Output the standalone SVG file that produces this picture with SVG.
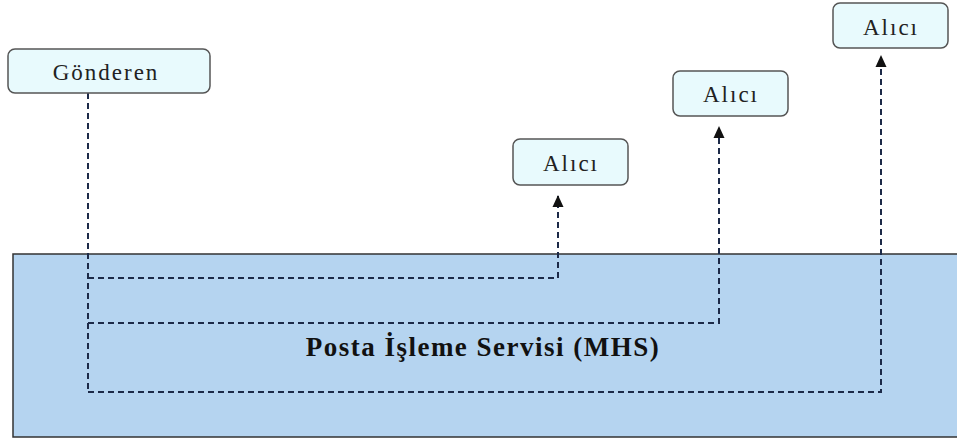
<svg xmlns="http://www.w3.org/2000/svg" width="957" height="439" viewBox="0 0 957 439">
<style>
.box{fill:#e8fafd;stroke:#555;stroke-width:1.5}
.lbl{font-family:"Liberation Serif",serif;font-size:23px;letter-spacing:2px;fill:#222;text-anchor:middle}
.dash{fill:none;stroke:#1c2a48;stroke-width:2;stroke-dasharray:6 4}
</style>
<defs>
<marker id="arr" markerWidth="12" markerHeight="12" refX="11" refY="6" orient="auto" markerUnits="userSpaceOnUse">
<path d="M0,0.5 L12,6 L0,11.5 Z" fill="#111"/>
</marker>
</defs>
<rect width="957" height="439" fill="#fff"/>
<g id="mhs">
<rect x="13" y="254" width="950" height="183" fill="#b5d4f0" stroke="#333" stroke-width="1.5"/>
<text x="483" y="356" font-family="Liberation Serif,serif" font-size="27" font-weight="bold" letter-spacing="1.5" fill="#111" text-anchor="middle">Posta İşleme Servisi (MHS)</text>
</g>
<g id="connectors">
<path class="dash" d="M88,93 V392"/>
<path class="dash" d="M88,278 H558 V196" marker-end="url(#arr)"/>
<path class="dash" d="M88,323 H719 V127" marker-end="url(#arr)"/>
<path class="dash" d="M88,392 H881 V56" marker-end="url(#arr)"/>
</g>
<g id="gonderen">
<rect class="box" x="8" y="49" width="202" height="44" rx="7"/>
<text class="lbl" x="106" y="80">Gönderen</text>
</g>
<g id="alici1">
<rect class="box" x="513" y="139" width="115" height="46" rx="7"/>
<text class="lbl" x="571" y="171">Alıcı</text>
</g>
<g id="alici2">
<rect class="box" x="673" y="71" width="115" height="45" rx="7"/>
<text class="lbl" x="731" y="102">Alıcı</text>
</g>
<g id="alici3">
<rect class="box" x="833" y="3" width="115" height="45" rx="7"/>
<text class="lbl" x="891" y="35">Alıcı</text>
</g>
</svg>
